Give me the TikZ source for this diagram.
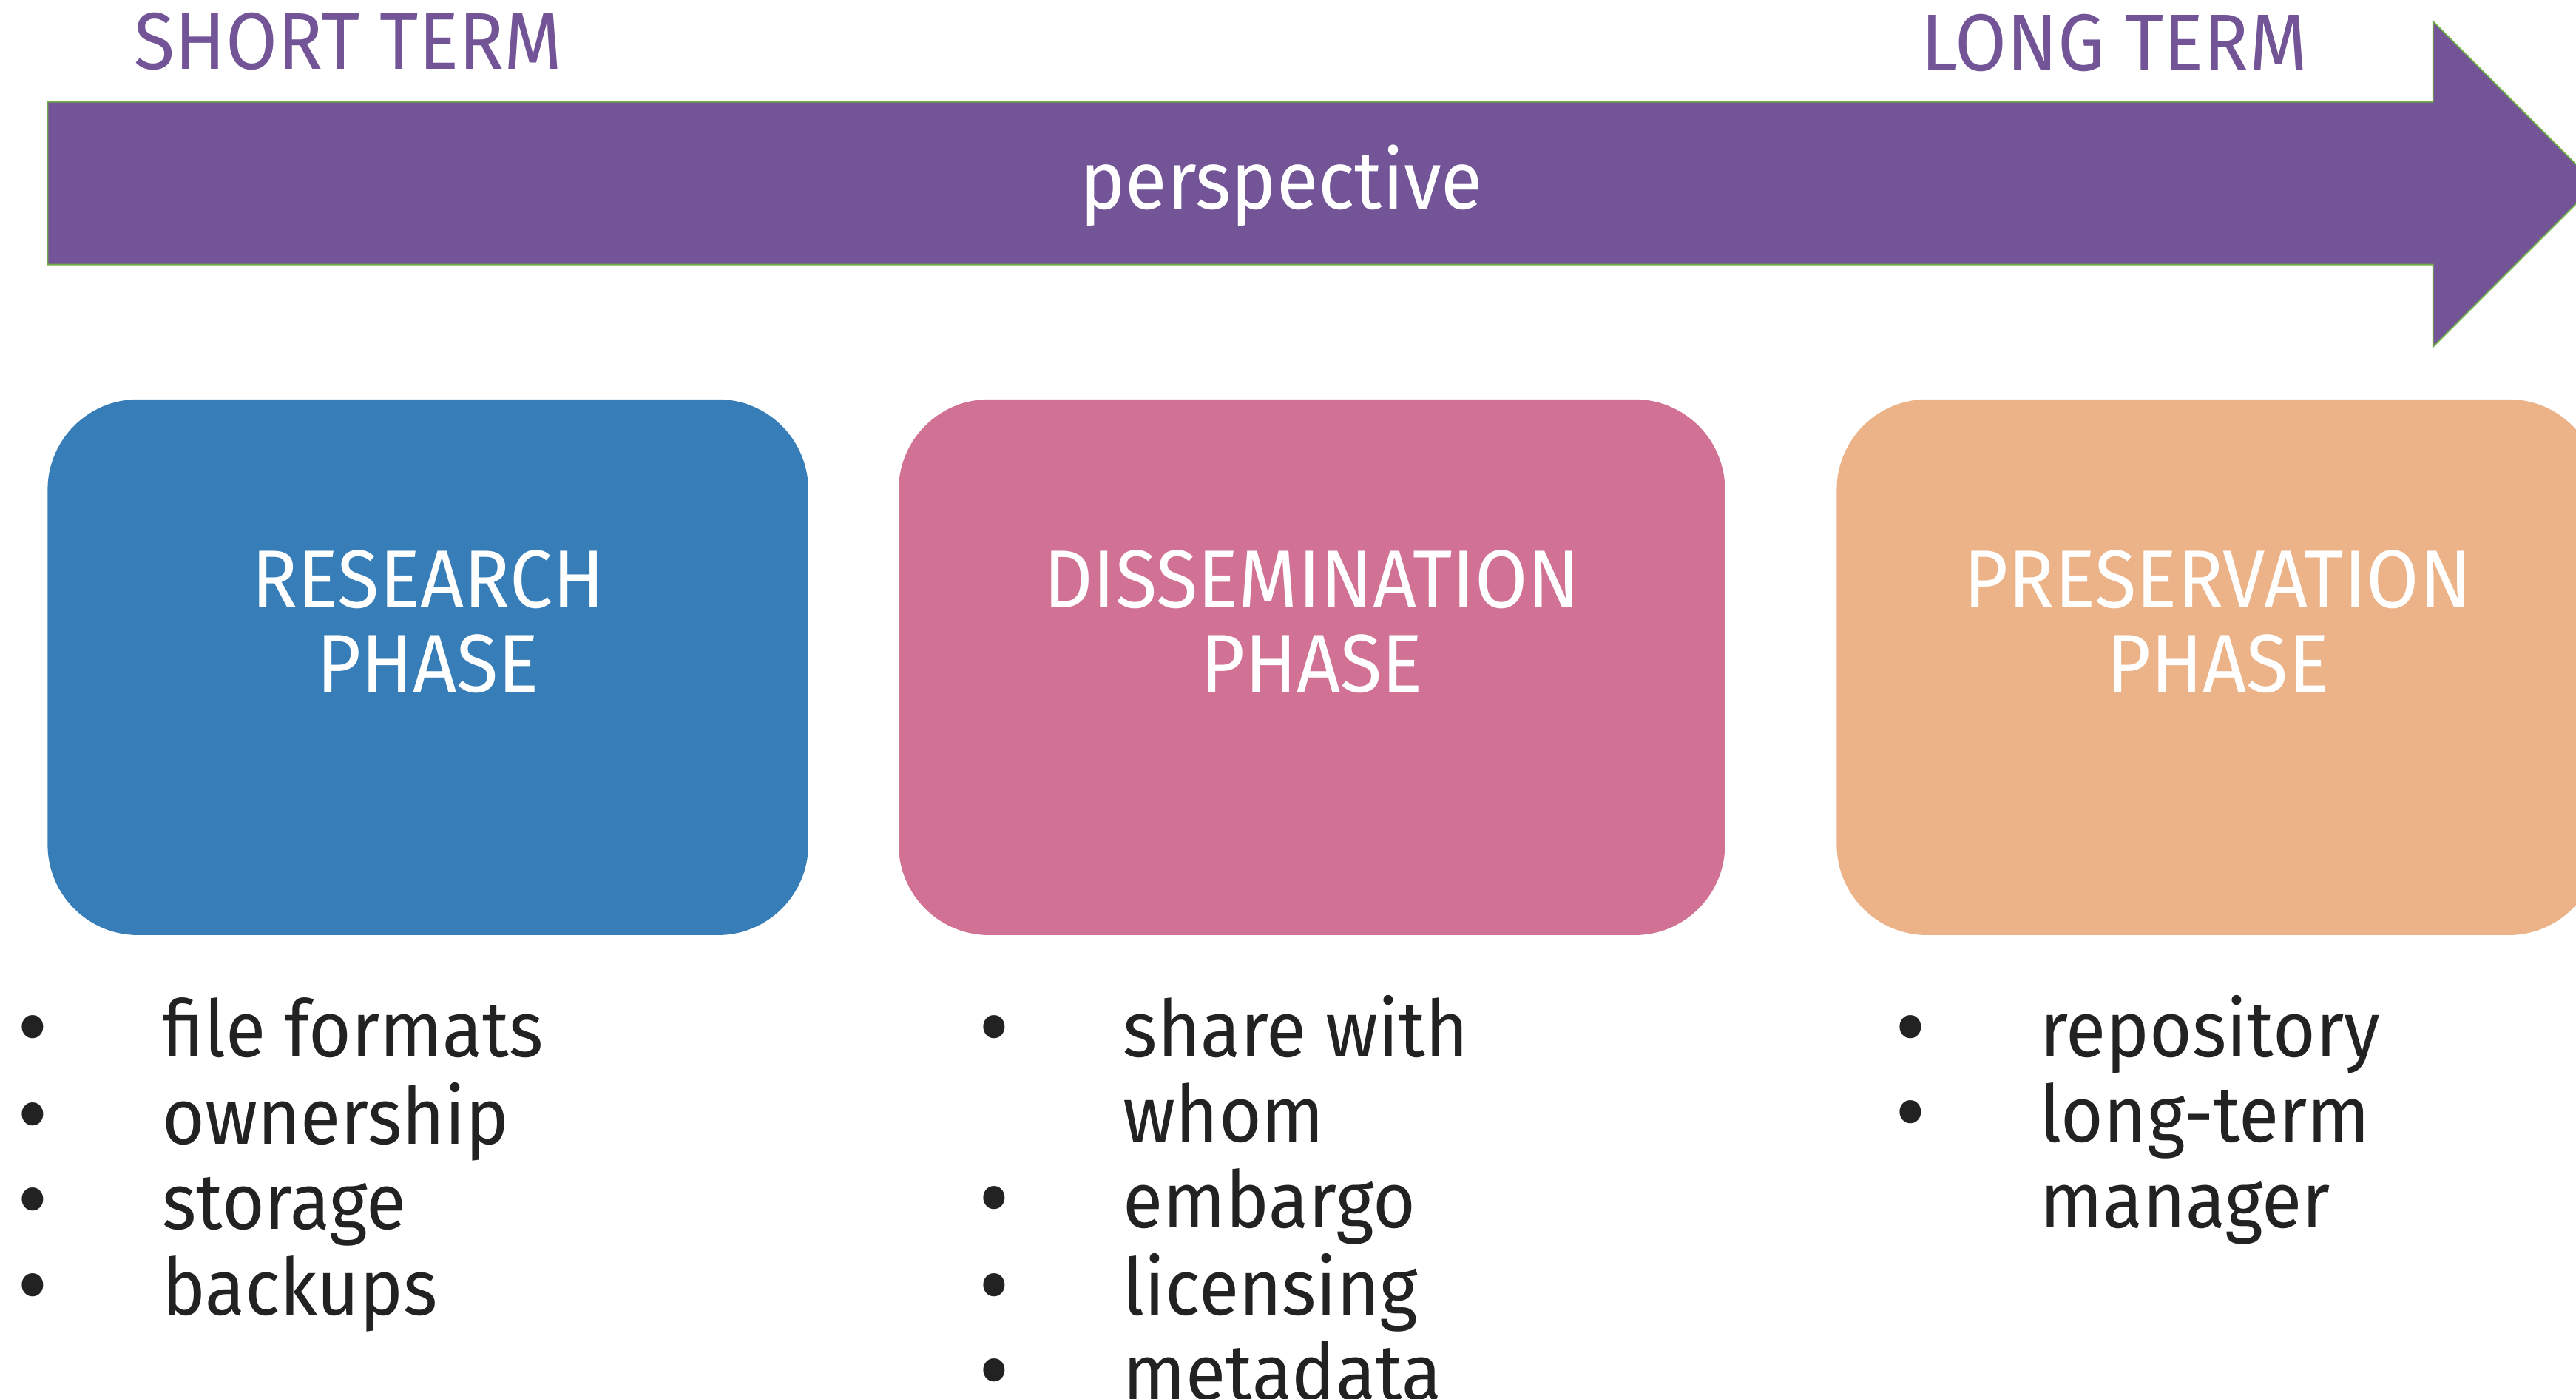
\documentclass[tikz,border=0pt]{standalone}
\usepackage{fontspec}
\setmainfont{Fira Sans}[FakeStretch=0.93]
\usetikzlibrary{positioning}

\definecolor{arrowpurple}{RGB}{114,84,151}
\definecolor{arrowedge}{RGB}{112,173,71}
\definecolor{researchblue}{RGB}{55,126,184}
\definecolor{dissempink}{RGB}{209,113,148}
\definecolor{preservorange}{RGB}{236,179,137}
\definecolor{listgray}{RGB}{34,34,34}

\newcommand{\bigbullet}{\raisebox{-1.6pt}{\smash{\scalebox{1.3}{\textbullet}}}}

\tikzset{every picture/.style={line width=0.75pt}}
\tikzset{
  phasebox/.style={rectangle, rounded corners=27.5pt, minimum height=163pt, inner sep=0pt},
  phaselabel/.style={anchor=base, inner sep=0pt, text=white, font=\fontsize{25}{25.5}\selectfont},
  termlabel/.style={anchor=base, inner sep=0pt, text=arrowpurple, font=\fontsize{24.5}{26}\selectfont},
  itemlist/.style={anchor=base west, inner sep=0pt, text=listgray, font=\fontsize{24}{26}\selectfont}
}

\begin{document}
\begin{tikzpicture}[x=0.5pt,y=0.5pt,yscale=-1,xscale=1]
	\useasboundingbox (0,0) rectangle (1568,851);
	
	%Shape: Right Arrow
	\draw [fill=arrowpurple, draw=arrowedge, line width=0.4pt] (29,62) -- (1481,62) -- (1481,13) -- (1580,112) -- (1481,211) -- (1481,161) -- (29,161) -- cycle ;
	\node [phaselabel] (persp) at (780,127) {perspective};
	\node [termlabel] (short) at (212,42) {SHORT TERM};
	\node [termlabel] (long) at (1287,43) {LONG TERM};
	
	%Shape: Rounded Rect
	\node [phasebox, fill=researchblue, minimum width=231.5pt] (research) at (260.5,406) {};
	\node [phasebox, fill=dissempink, minimum width=251.5pt] (dissem) at (798.5,406) {};
	\node [phasebox, fill=preservorange, minimum width=232pt] (preserv) at (1350,406) {};
	
	\node [phaselabel] (research-text) at (260.5,370) {\begin{tabular}[t]{@{}c@{}}RESEARCH\\PHASE\end{tabular}};
	\node [phaselabel] (dissem-text) at (798.5,370) {\begin{tabular}[t]{@{}c@{}}DISSEMINATION\\PHASE\end{tabular}};
	\node [phaselabel] (preserv-text) at (1350,370) {\begin{tabular}[t]{@{}c@{}}PRESERVATION\\PHASE\end{tabular}};
	
	%Bullet lists
	\node [itemlist] (research-list) at (10,643) {\begin{tabular}[t]{@{}p{44pt}@{}l@{}}
	  \bigbullet & file formats\\
	  \bigbullet & ownership\\
	  \bigbullet & storage\\
	  \bigbullet & backups
	\end{tabular}};
	\node [itemlist] (dissem-list) at (595,643) {\begin{tabular}[t]{@{}p{44pt}@{}l@{}}
	  \bigbullet & share with\\
	   & whom\\
	  \bigbullet & embargo\\
	  \bigbullet & licensing\\
	  \bigbullet & metadata
	\end{tabular}};
	\node [itemlist] (preserv-list) at (1153,643) {\begin{tabular}[t]{@{}p{44pt}@{}l@{}}
	  \bigbullet & repository\\
	  \bigbullet & long-term\\
	   & manager
	\end{tabular}};
	
\end{tikzpicture}
\end{document}
